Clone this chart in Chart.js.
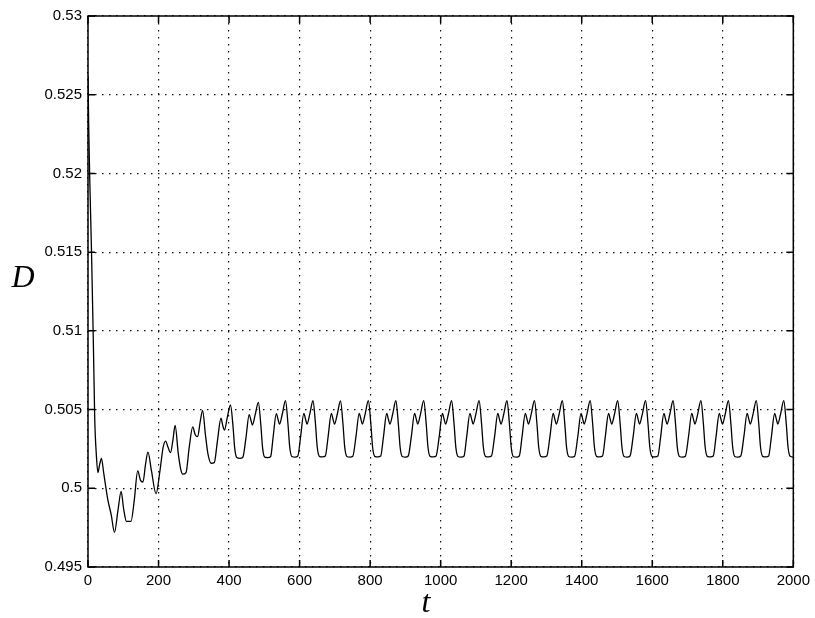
<!DOCTYPE html>
<html>
<head>
<meta charset="utf-8">
<script src="https://cdn.jsdelivr.net/npm/chart.js@4"></script>
<style>
  html, body { margin: 0; padding: 0; background: #fff; }
  #wrap { width: 815px; height: 618px; position: relative; }
</style>
</head>
<body>
<div id="wrap"><canvas id="c"></canvas></div>
<script>
// time t and value D
const tValues = [
  0, 2, 5, 10, 15, 19, 24, 28, 33, 38, 45, 56, 66, 75, 85, 94, 101, 109, 122, 131,
  141, 149, 156, 163, 170, 180, 193, 204, 213, 220, 227, 234, 241, 247, 256, 263, 269, 278, 287, 297,
  304, 311, 318, 325, 333, 340, 349, 358, 367, 377, 382, 387, 395, 404, 411, 416, 422, 431, 439,
  448, 457, 462, 466, 474, 483, 490, 495, 501, 510, 518,
  525, 534, 539, 543, 551, 560, 567, 572, 578, 587, 595,
  603, 612, 617, 621, 629, 638, 645, 650, 656, 665, 673,
  681, 690, 695, 699, 707, 716, 723, 728, 734, 743, 751,
  760, 769, 774, 778, 786, 795, 802, 807, 813, 822, 830,
  838, 847, 852, 856, 864, 873, 880, 885, 891, 900, 908,
  917, 926, 931, 935, 943, 952, 959, 964, 970, 979, 987,
  996, 1005, 1010, 1014, 1022, 1031, 1038, 1043, 1049, 1058, 1066,
  1074, 1083, 1088, 1092, 1100, 1109, 1116, 1121, 1127, 1136, 1144,
  1153, 1162, 1167, 1171, 1179, 1188, 1195, 1200, 1206, 1215, 1223,
  1231, 1240, 1245, 1249, 1257, 1266, 1273, 1278, 1284, 1293, 1301,
  1310, 1319, 1324, 1328, 1336, 1345, 1352, 1357, 1363, 1372, 1380,
  1389, 1398, 1403, 1407, 1415, 1424, 1431, 1436, 1442, 1451, 1459,
  1467, 1476, 1481, 1485, 1493, 1502, 1509, 1514, 1520, 1529, 1537,
  1546, 1555, 1560, 1564, 1572, 1581, 1588, 1593, 1599, 1608, 1616,
  1624, 1633, 1638, 1642, 1650, 1659, 1666, 1671, 1677, 1686, 1694,
  1703, 1712, 1717, 1721, 1729, 1738, 1745, 1750, 1756, 1765, 1773,
  1781, 1790, 1795, 1799, 1807, 1816, 1823, 1828, 1834, 1843, 1851,
  1860, 1869, 1874, 1878, 1886, 1895, 1902, 1907, 1913, 1922, 1930,
  1938, 1947, 1952, 1956, 1964, 1973, 1980, 1985, 1991, 2000
];
const dValues = [
  0.5262, 0.5230, 0.5196, 0.5150, 0.5095, 0.5045, 0.5020, 0.5010, 0.5015, 0.5019, 0.5009, 0.4993, 0.4983, 0.4972, 0.4986, 0.4998, 0.4987, 0.4979, 0.4979, 0.4992,
  0.5011, 0.5005, 0.5004, 0.5015, 0.5023, 0.5011, 0.49965, 0.5011, 0.5026, 0.5030, 0.5026, 0.50226, 0.5031, 0.5040, 0.5022, 0.5012, 0.5009, 0.5010, 0.5026, 0.5039,
  0.5034, 0.50328, 0.5042, 0.50494, 0.5034, 0.5022, 0.50159, 0.50163, 0.5030, 0.50445, 0.5040, 0.5037, 0.5045, 0.50529, 0.50400, 0.50255, 0.50195, 0.50190, 0.50197,
  0.50322, 0.50468, 0.50432, 0.50402, 0.50466, 0.50546, 0.50405, 0.50258, 0.50198, 0.50195, 0.50202,
  0.50326, 0.50474, 0.50437, 0.50407, 0.50472, 0.50557, 0.50410, 0.50262, 0.50202, 0.50198, 0.50205,
  0.50330, 0.50476, 0.50438, 0.50408, 0.50473, 0.50556, 0.50410, 0.50262, 0.50203, 0.50199, 0.50205,
  0.50330, 0.50475, 0.50437, 0.50407, 0.50472, 0.50555, 0.50408, 0.50261, 0.50202, 0.50198, 0.50204,
  0.50331, 0.50476, 0.50438, 0.50408, 0.50473, 0.50557, 0.50410, 0.50262, 0.50203, 0.50199, 0.50205,
  0.50330, 0.50475, 0.50437, 0.50407, 0.50472, 0.50556, 0.50409, 0.50262, 0.50202, 0.50198, 0.50205,
  0.50331, 0.50476, 0.50438, 0.50408, 0.50473, 0.50557, 0.50410, 0.50262, 0.50203, 0.50199, 0.50205,
  0.50330, 0.50475, 0.50437, 0.50407, 0.50472, 0.50556, 0.50409, 0.50261, 0.50202, 0.50198, 0.50204,
  0.50331, 0.50476, 0.50438, 0.50408, 0.50473, 0.50557, 0.50410, 0.50262, 0.50203, 0.50199, 0.50205,
  0.50330, 0.50475, 0.50437, 0.50407, 0.50472, 0.50556, 0.50409, 0.50262, 0.50202, 0.50198, 0.50205,
  0.50331, 0.50476, 0.50438, 0.50408, 0.50473, 0.50557, 0.50410, 0.50262, 0.50203, 0.50199, 0.50205,
  0.50330, 0.50475, 0.50437, 0.50407, 0.50472, 0.50556, 0.50409, 0.50261, 0.50202, 0.50198, 0.50204,
  0.50331, 0.50476, 0.50438, 0.50408, 0.50473, 0.50557, 0.50410, 0.50262, 0.50203, 0.50199, 0.50205,
  0.50330, 0.50475, 0.50437, 0.50407, 0.50472, 0.50556, 0.50409, 0.50262, 0.50202, 0.50198, 0.50205,
  0.50331, 0.50476, 0.50438, 0.50408, 0.50473, 0.50557, 0.50410, 0.50262, 0.50203, 0.50199, 0.50205,
  0.50330, 0.50475, 0.50437, 0.50407, 0.50472, 0.50556, 0.50409, 0.50261, 0.50202, 0.50198, 0.50204,
  0.50331, 0.50476, 0.50438, 0.50408, 0.50473, 0.50557, 0.50410, 0.50262, 0.50203, 0.50199, 0.50205,
  0.50330, 0.50475, 0.50437, 0.50407, 0.50472, 0.50556, 0.50409, 0.50262, 0.50202, 0.50198, 0.50205,
  0.50331, 0.50476, 0.50438, 0.50408, 0.50473, 0.50557, 0.50410, 0.50262, 0.50203, 0.50199, 0.50205,
  0.50330, 0.50476, 0.50438, 0.50408, 0.50473, 0.50557, 0.50410, 0.50262, 0.50203, 0.50198
];
const xTicks = [0, 200, 400, 600, 800, 1000, 1200, 1400, 1600, 1800, 2000];
const xTickLabels = ['0', '200', '400', '600', '800', '1000', '1200', '1400', '1600', '1800', '2000'];
const yTicks = [0.495, 0.5, 0.505, 0.51, 0.515, 0.52, 0.525, 0.53];
const yTickLabels = ['0.495', '0.5', '0.505', '0.51', '0.515', '0.52', '0.525', '0.53'];
const xLabel = 't';
const yLabel = 'D';

const points = tValues.map((t, i) => ({ x: t, y: dValues[i] }));

// matlab style box, inward ticks, axis letters
const matlabBox = {
  id: 'matlabBox',
  afterDraw(chart) {
    const { ctx, chartArea: { left, right, top, bottom } } = chart;
    const x = chart.scales.x, y = chart.scales.y;
    const tl = 7;
    ctx.save();
    ctx.strokeStyle = '#000';
    ctx.lineWidth = 1.5;
    ctx.strokeRect(left, top, right - left, bottom - top);
    ctx.beginPath();
    xTicks.forEach(v => {
      const px = x.getPixelForValue(v);
      ctx.moveTo(px, bottom); ctx.lineTo(px, bottom - tl);
      ctx.moveTo(px, top); ctx.lineTo(px, top + tl);
    });
    yTicks.forEach(v => {
      const py = y.getPixelForValue(v);
      ctx.moveTo(left, py); ctx.lineTo(left + tl, py);
      ctx.moveTo(right, py); ctx.lineTo(right - tl, py);
    });
    ctx.stroke();
    ctx.fillStyle = '#000';
    ctx.font = 'italic 32px "Liberation Serif", "DejaVu Serif", serif';
    ctx.textAlign = 'center';
    ctx.textBaseline = 'middle';
    ctx.fillText(yLabel, 23, 279);
    ctx.fillText(xLabel, 426, 604);
    ctx.restore();
  }
};

const tickFont = { family: '"Liberation Sans", Arial, sans-serif', size: 15 };

new Chart(document.getElementById('c'), {
  type: 'line',
  data: {
    datasets: [{
      data: points,
      borderColor: '#000',
      borderWidth: 1.3,
      pointRadius: 0,
      fill: false,
      cubicInterpolationMode: 'monotone'
    }]
  },
  options: {
    responsive: true,
    maintainAspectRatio: false,
    animation: false,
    layout: { padding: { left: 0, right: 20, top: 16, bottom: 0 } },
    plugins: { legend: { display: false }, tooltip: { enabled: false } },
    scales: {
      x: {
        type: 'linear',
        min: 0,
        max: 2000,
        afterBuildTicks: s => { s.ticks = xTicks.map(v => ({ value: v })); },
        afterFit: s => { s.height = 51; },
        ticks: {
          font: tickFont, color: '#000', padding: 5, maxRotation: 0, autoSkip: false,
          callback: (v, i) => xTickLabels[i]
        },
        grid: { color: '#111', lineWidth: 1.2, drawTicks: false },
        border: { display: false, dash: [1.5, 5.5] }
      },
      y: {
        type: 'linear',
        min: 0.495,
        max: 0.53,
        afterBuildTicks: s => { s.ticks = yTicks.map(v => ({ value: v })); },
        afterFit: s => { s.width = 88; },
        ticks: {
          font: tickFont, color: '#000', padding: 6, autoSkip: false,
          callback: (v, i) => yTickLabels[i]
        },
        grid: { color: '#111', lineWidth: 1.2, drawTicks: false },
        border: { display: false, dash: [1.5, 5.5] }
      }
    }
  },
  plugins: [matlabBox]
});
</script>
</body>
</html>
